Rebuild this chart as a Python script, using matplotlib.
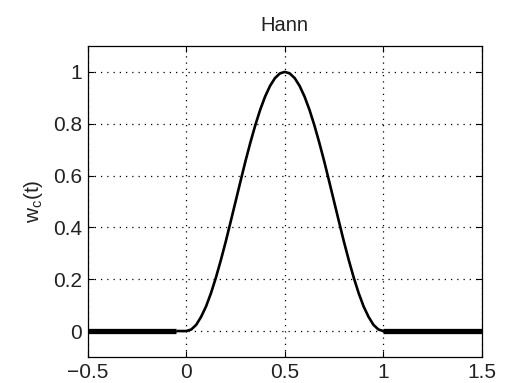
import matplotlib
matplotlib.use("Agg")
import matplotlib.pyplot as plt

plt.rcParams["font.family"] = ["Liberation Sans", "DejaVu Sans"]

# window curve
t_curve = [-0.05, -0.025, 0.0, 0.025, 0.05, 0.075, 0.1, 0.125, 0.15, 0.175, 0.2,
           0.225, 0.25, 0.275, 0.3, 0.325, 0.35, 0.375, 0.4, 0.425, 0.45, 0.475,
           0.5, 0.525, 0.55, 0.575, 0.6, 0.625, 0.65, 0.675, 0.7, 0.725, 0.75,
           0.775, 0.8, 0.825, 0.85, 0.875, 0.9, 0.925, 0.95, 0.975, 1.0, 1.025, 1.05]
w_curve = [0.0, 0.0, 0.0, 0.006, 0.024, 0.055, 0.095, 0.146, 0.206, 0.273, 0.345,
           0.422, 0.5, 0.578, 0.655, 0.727, 0.794, 0.854, 0.905, 0.946, 0.976, 0.994,
           1.0, 0.994, 0.976, 0.946, 0.905, 0.854, 0.794, 0.727, 0.655, 0.578, 0.5,
           0.422, 0.345, 0.273, 0.206, 0.146, 0.095, 0.055, 0.024, 0.006, 0.0, 0.0, 0.0]

# zero parts outside the window (thick)
t_left = [-0.5, -0.05]
w_left = [0.0, 0.0]
t_right = [1.0, 1.5]
w_right = [0.0, 0.0]

xticks = [-0.5, 0, 0.5, 1, 1.5]
xticklabels = ["\u22120.5", "0", "0.5", "1", "1.5"]
yticks = [0, 0.2, 0.4, 0.6, 0.8, 1]
yticklabels = ["0", "0.2", "0.4", "0.6", "0.8", "1"]

txt = "#222222"
fig = plt.figure(figsize=(5.05, 3.83), dpi=100)
ax = fig.add_axes([0.174, 0.068, 0.780, 0.812])

ax.plot(t_curve, w_curve, color="black", lw=1.9, solid_capstyle="butt")
ax.plot(t_left, w_left, color="black", lw=3.8, solid_capstyle="butt")
ax.plot(t_right, w_right, color="black", lw=3.8, solid_capstyle="butt")

ax.set_xlim(-0.5, 1.5)
ax.set_ylim(-0.1, 1.1)
ax.set_xticks(xticks)
ax.set_xticklabels(xticklabels)
ax.set_yticks(yticks)
ax.set_yticklabels(yticklabels)

ax.grid(True, color="black", linestyle=(0, (1, 4)), linewidth=0.9)
ax.tick_params(direction="in", length=4, width=0.8, top=True, right=True,
               labelsize=15, labelcolor=txt, pad=4)
for s in ax.spines.values():
    s.set_linewidth(0.9)

ax.set_title("Hann", fontsize=14.5, pad=11, color=txt)
ax.set_ylabel("w$_\\mathregular{c}$(t)", fontsize=15, labelpad=6, color=txt)

fig.savefig("out.png", dpi=100)
